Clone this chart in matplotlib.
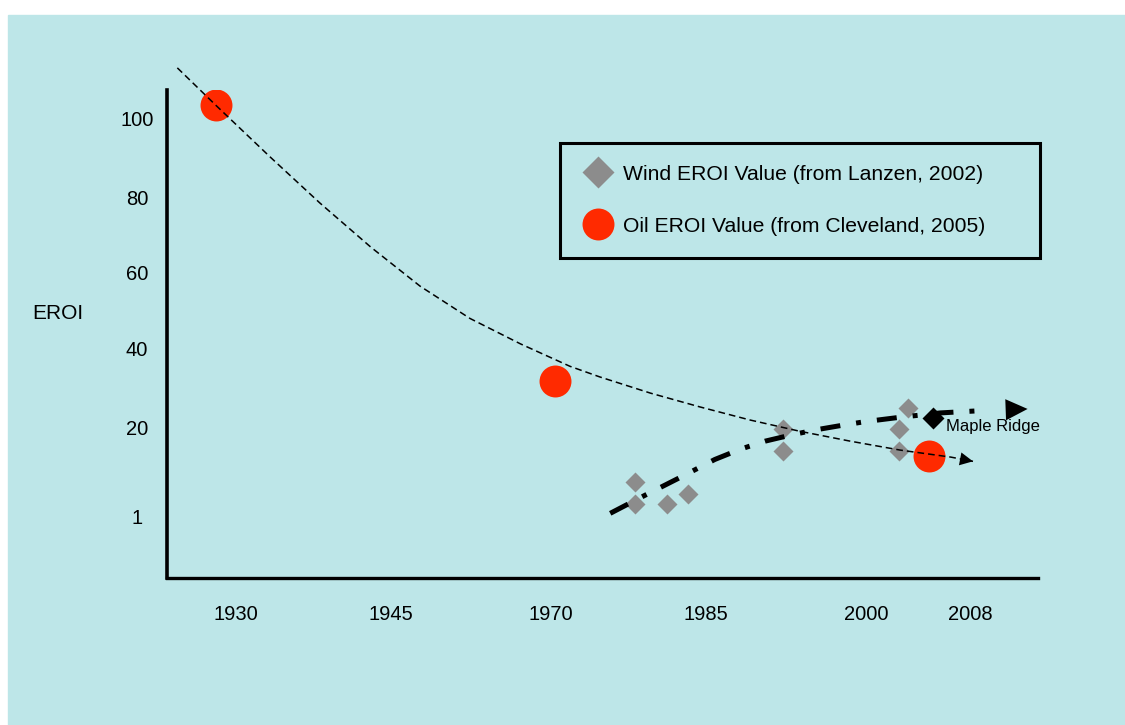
import numpy as np
import matplotlib
matplotlib.use('Agg')
import matplotlib.pyplot as plt
from matplotlib.lines import Line2D
from matplotlib.patches import Rectangle

plt.rcParams['font.family'] = ['Liberation Sans', 'DejaVu Sans']

# axis labels as printed; the original spacing is not proportional,
# so each tick gets its own place along the axis (pixels from the first tick)
year_ticks = [1930, 1945, 1970, 1985, 2000, 2008]
year_tick_pos = [0, 155, 315, 470, 630, 734]
eroi_ticks = [1, 20, 40, 60, 80, 100]
eroi_tick_pos = [0, 89, 168, 244, 319, 398]

# data
oil_year = [1928.0, 1970.4, 2004.8]
oil_eroi = [103.3, 31.6, 13.8]

wind_year = [1978.1, 1978.1, 1981.2, 1983.2, 1992.2, 1992.2, 2002.5, 2002.5, 2003.2]
wind_eroi = [8.2, 3.6, 3.6, 5.8, 19.6, 14.9, 19.5, 14.9, 24.9]

maple_year = [2005.1]
maple_eroi = [22.2]

# trend curves
oil_trend_year = [1924.3, 1928.0, 1933.3, 1938.1, 1943.0, 1949.5, 1957.3, 1965.2, 1971.8,
                  1974.7, 1979.6, 1984.4, 1989.1, 1993.8, 1998.5, 2002.6, 2006.5, 2008.2]
oil_trend_eroi = [112.7, 103.3, 90.1, 78.4, 66.7, 56.3, 47.8, 41.1, 35.4,
                  32.7, 28.6, 25.1, 21.8, 19.1, 17.0, 15.1, 13.6, 12.7]

wind_trend_year = [1975.7, 1979.1, 1982.5, 1985.8, 1988.2, 1990.5, 1992.9, 1995.2,
                   1997.6, 1999.9, 2002.6, 2005.7, 2009.0, 2012.4]
wind_trend_eroi = [1.6, 5.5, 9.3, 13.1, 15.3, 17.0, 18.3, 19.4,
                   20.4, 21.4, 22.5, 23.6, 24.2, 24.6]

BG = '#BDE6E8'
RED = '#FF2A00'
GREY = '#8C8C8C'


def knot_scale(values, positions):
    # piecewise linear mapping through the tick knots, extended at both ends
    v = np.asarray(values, float)
    p = np.asarray(positions, float)

    def _map(x, a, b):
        x = np.asarray(x, float)
        out = np.interp(x, a, b)
        lo = (b[1] - b[0]) / (a[1] - a[0])
        hi = (b[-1] - b[-2]) / (a[-1] - a[-2])
        out = np.where(x < a[0], b[0] + (x - a[0]) * lo, out)
        out = np.where(x > a[-1], b[-1] + (x - a[-1]) * hi, out)
        return out

    return (lambda x: _map(x, v, p)), (lambda y: _map(y, p, v))


fig = plt.figure(figsize=(11.25, 7.25), dpi=100, facecolor='white')
fig.add_artist(Rectangle((8 / 1125, 0), 1 - 8 / 1125, 1 - 15 / 725,
                         transform=fig.transFigure, color=BG, zorder=-10))

ax = fig.add_axes([167 / 1125, 1 - 578 / 725, 871 / 1125, 488 / 725])
ax.set_facecolor('none')
ax.set_xscale('function', functions=knot_scale(year_ticks, year_tick_pos))
ax.set_yscale('function', functions=knot_scale(eroi_ticks, eroi_tick_pos))
ax.set_xlim(1923.3, 2013.2)
ax.set_ylim(-12.2, 107.1)

# markers
ax.plot(wind_year, wind_eroi, ls='none', marker='D', ms=10.2, color=GREY, mec='none', zorder=2)
ax.plot(maple_year, maple_eroi, ls='none', marker='D', ms=11.2, color='black', mec='none', zorder=4)
ax.plot(oil_year, oil_eroi, ls='none', marker='o', ms=23, color=RED, mec='none', zorder=2)

# trend lines
ax.plot(oil_trend_year, oil_trend_eroi, color='black', lw=1.1, dashes=(4.4, 2.6),
        zorder=3, clip_on=False)
ax.annotate('', xy=(oil_trend_year[-1], oil_trend_eroi[-1]),
            xytext=(oil_trend_year[-2], oil_trend_eroi[-2]),
            arrowprops=dict(arrowstyle='-|>,head_length=0.94,head_width=0.47',
                            mutation_scale=10, color='black', lw=0,
                            shrinkA=0, shrinkB=0), zorder=3)

ax.plot(wind_trend_year[:-1], wind_trend_eroi[:-1], color='black', lw=3.6,
        dashes=(4, 3.2, 1, 3.2), zorder=3, clip_on=False)
ax.annotate('', xy=(wind_trend_year[-1], wind_trend_eroi[-1]),
            xytext=(wind_trend_year[-2], wind_trend_eroi[-2]),
            arrowprops=dict(arrowstyle='-|>,head_length=0.79,head_width=0.38',
                            mutation_scale=20, color='black', lw=0,
                            shrinkA=0, shrinkB=0), zorder=3)

ax.annotate('Maple Ridge', xy=(maple_year[0], maple_eroi[0]), xytext=(9.4, -9.1),
            textcoords='offset points', ha='left', va='baseline', fontsize=12)

# axes
for s in ['top', 'right']:
    ax.spines[s].set_visible(False)
ax.spines['left'].set_linewidth(2.6)
ax.spines['bottom'].set_linewidth(2.4)

ax.set_xticks(year_ticks)
ax.set_xticklabels([str(y) for y in year_ticks])
ax.set_yticks(eroi_ticks)
ax.set_yticklabels([str(v) for v in eroi_ticks])
ax.tick_params(axis='x', length=0, pad=19.4, labelsize=14.5)
ax.tick_params(axis='y', length=0, pad=21.6, labelsize=14.5)
plt.setp(ax.get_yticklabels(), ha='center')

ax.set_ylabel('EROI', rotation=0, fontsize=15, ha='center', va='center')
ax.yaxis.set_label_coords((57.5 - 167) / 871, (578 - 314) / 488)

# legend
handles = [Line2D([], [], ls='none', marker='D', ms=16.3, color=GREY, mec='none'),
           Line2D([], [], ls='none', marker='o', ms=23, color=RED, mec='none')]
labels = ['Wind EROI Value (from Lanzen, 2002)', 'Oil EROI Value (from Cleveland, 2005)']
leg = ax.legend(handles, labels, loc='upper left', mode='expand',
                bbox_to_anchor=(560 / 1125, 1 - 259.3 / 725, 480 / 1125, 116.8 / 725),
                bbox_transform=fig.transFigure, borderaxespad=0, fontsize=15.2,
                fancybox=False, framealpha=1, borderpad=1.05, labelspacing=1.56,
                handlelength=1.52, handletextpad=0.41, numpoints=1)
frame = leg.get_frame()
frame.set_facecolor('none')
frame.set_edgecolor('black')
frame.set_linewidth(2.2)

fig.savefig('out.png', dpi=100, facecolor='white')
